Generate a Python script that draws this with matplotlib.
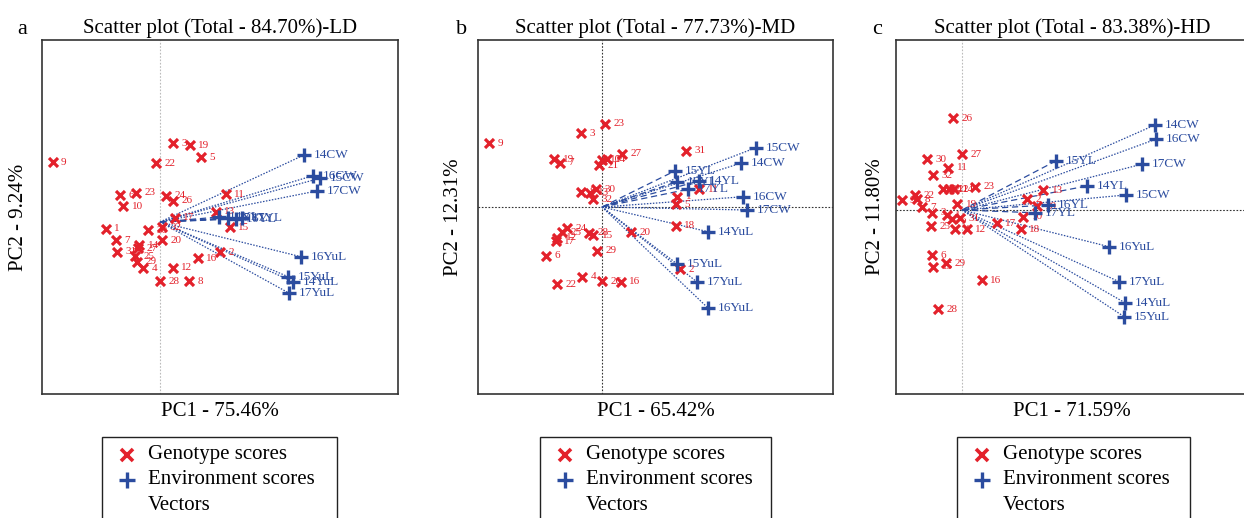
import matplotlib
matplotlib.use("Agg")
import matplotlib.pyplot as plt
from matplotlib.lines import Line2D
from matplotlib.patches import Rectangle

plt.rcParams['font.family'] = ['Liberation Serif', 'DejaVu Serif']

# ---------------- data ----------------
titles = ["Scatter plot (Total - 84.70%)-LD",
          "Scatter plot (Total - 77.73%)-MD",
          "Scatter plot (Total - 83.38%)-HD"]
panel_letters = ["a", "b", "c"]
xlabels = ["PC1 - 75.46%", "PC1 - 65.42%", "PC1 - 71.59%"]
ylabels = ["PC2 - 9.24%", "PC2 - 12.31%", "PC2 - 11.80%"]
legend_labels = ["Genotype scores", "Environment scores", "Vectors"]

# Panel a (LD)
gen_a_labels = ["3", "19", "5", "22", "9", "23", "6", "10", "26", "24", "11", "13", "17", "15",
                "1", "7", "31", "30", "32", "20", "14", "27", "25", "29", "4", "12", "28", "8",
                "16", "2"]
gen_a_x = [0.51, 1.20, 1.64, -0.16, -4.29, -0.96, -1.60, -1.47, 0.53, 0.24, 2.63, 2.24, 0.60, 2.80,
           -2.16, -1.76, -1.73, -0.47, 0.07, 0.07, -0.83, -0.87, -1.00, -0.93, -0.67, 0.51, 0.00, 1.16,
           1.51, 2.40]
gen_a_y = [3.15, 3.08, 2.59, 2.35, 2.39, 1.17, 1.08, 0.64, 0.85, 1.05, 1.11, 0.41, 0.17, -0.21,
           -0.27, -0.72, -1.19, -0.32, -0.21, -0.72, -0.92, -1.05, -1.36, -1.59, -1.85, -1.83, -2.36, -2.36,
           -1.45, -1.21]
env_a_labels = ["14CW", "16CW", "15CW", "17CW", "14YL", "15YL", "16YL", "17YL",
                "16YuL", "15YuL", "14YuL", "17YuL"]
env_a_x = [5.76, 6.11, 6.40, 6.27, 2.36, 2.72, 3.04, 3.28, 5.64, 5.13, 5.33, 5.17]
env_a_y = [2.68, 1.85, 1.75, 1.24, 0.20, 0.16, 0.12, 0.16, -1.39, -2.19, -2.39, -2.85]

# Panel b (MD)
gen_b_labels = ["9", "3", "23", "19", "7", "10", "14", "27", "21", "31", "8", "13", "30", "32",
                "1", "5", "11", "18", "20", "24", "25", "12", "17", "28", "15", "29", "6", "2",
                "4", "22", "26", "16"]
gen_b_x = [-4.52, -0.84, 0.12, -1.91, -1.68, -0.01, 0.19, 0.79, -0.11, 3.36, -0.84, -0.48, -0.24, -0.37,
           3.01, 2.95, 3.89, 2.95, 1.16, -1.41, -1.61, -1.79, -1.84, -0.52, -0.35, -0.19, -2.24, 3.12,
           -0.79, -1.79, 0.01, 0.76]
gen_b_y = [2.55, 2.95, 3.32, 1.91, 1.77, 1.88, 1.91, 2.12, 1.68, 2.25, 0.61, 0.57, 0.71, 0.31,
           0.41, 0.11, 0.71, -0.76, -1.01, -0.85, -1.01, -1.23, -1.36, -1.03, -1.12, -1.75, -1.95, -2.49,
           -2.79, -3.09, -2.96, -2.99]
env_b_labels = ["15CW", "14CW", "15YL", "16YL", "14YL", "17YL", "16CW", "17CW",
                "14YuL", "15YuL", "17YuL", "16YuL"]
env_b_x = [6.15, 5.55, 2.91, 2.99, 3.89, 3.45, 5.65, 5.79, 4.25, 3.01, 3.79, 4.25]
env_b_y = [2.37, 1.75, 1.44, 1.01, 1.04, 0.71, 0.41, -0.12, -0.99, -2.28, -2.99, -4.05]

# Panel c (HD)
gen_c_labels = ["26", "27", "30", "11", "32", "23", "14", "21", "24", "22", "9", "8", "19", "7",
                "3", "1", "5", "31", "25", "4", "12", "17", "18", "2", "10", "20", "13", "6",
                "15", "29", "16", "28"]
gen_c_x = [-0.37, -0.01, -1.41, -0.55, -1.17, 0.52, -0.75, -0.51, -0.32, -1.88, -2.41, -1.81, -0.19, -1.61,
           -1.21, -0.61, -0.41, -0.08, -1.25, -0.28, 0.19, 1.39, 2.36, 2.59, 2.45, 2.99, 3.25, -1.21,
           -1.15, -0.64, 0.79, -0.95]
gen_c_y = [3.67, 2.24, 2.03, 1.69, 1.40, 0.93, 0.83, 0.83, 0.83, 0.60, 0.40, 0.43, 0.24, 0.11,
           -0.11, -0.20, -0.37, -0.33, -0.64, -0.77, -0.77, -0.53, -0.77, 0.43, -0.27, 0.16, 0.80, -1.80,
           -2.27, -2.13, -2.80, -3.97]
env_c_labels = ["14CW", "16CW", "17CW", "15YL", "14YL", "15CW", "16YL", "17YL",
                "16YuL", "17YuL", "14YuL", "15YuL"]
env_c_x = [7.72, 7.75, 7.19, 3.75, 4.99, 6.55, 3.45, 2.92, 5.89, 6.29, 6.52, 6.49]
env_c_y = [3.40, 2.83, 1.83, 1.96, 0.96, 0.60, 0.20, -0.11, -1.47, -2.87, -3.71, -4.27]

panels = [
    (gen_a_labels, gen_a_x, gen_a_y, env_a_labels, env_a_x, env_a_y),
    (gen_b_labels, gen_b_x, gen_b_y, env_b_labels, env_b_x, env_b_y),
    (gen_c_labels, gen_c_x, gen_c_y, env_c_labels, env_c_x, env_c_y),
]

# ---------------- layout ----------------
W, H = 1244, 518
fig = plt.figure(figsize=(W / 100, H / 100), dpi=100)


def fx(px):
    return px / W


def fy(py):
    return 1 - py / H


# axes boxes in pixels: left, right, top, bottom
boxes = [(42, 398, 40, 394), (478, 833, 40, 394), (896, 1248, 40, 394)]
xlims = [(-4.72, 9.52), (-4.96, 9.24), (-2.64, 11.44)]
ylims = [(-6.88, 7.28), (-7.48, 6.68), (-7.36, 6.80)]
letter_pos = [(22, 29), (462, 29), (877, 29)]
ylabel_x = [19, 454, 876]
legend_box = [(102, 337), (540, 771), (957, 1190)]

RED = "#e3212b"
BLUE = "#2b4c9f"
FS = 15

for i, (gl, gx, gy, el, ex, ey) in enumerate(panels):
    l, r, t, b = boxes[i]
    ax = fig.add_axes([fx(l), fy(b), (r - l) / W, (b - t) / H])
    ax.set_xlim(*xlims[i])
    ax.set_ylim(*ylims[i])
    ax.set_xticks([])
    ax.set_yticks([])
    for s in ax.spines.values():
        s.set_color("#333333")
        s.set_linewidth(1.2)

    # reference lines
    if i == 0:
        ax.axvline(0, color="#bbbbbb", lw=0.8, ls=(0, (1.5, 1.5)), zorder=0)
    elif i == 1:
        ax.axvline(0, color="#333333", lw=0.8, ls=(0, (1.5, 1.5)), zorder=0)
        ax.axhline(0, color="#333333", lw=0.8, ls=(0, (1.5, 1.5)), zorder=0)
    else:
        ax.axvline(0, color="#bbbbbb", lw=0.8, ls=(0, (1.5, 1.5)), zorder=0)
        ax.axhline(0, color="#333333", lw=0.8, ls=(0, (1.5, 1.5)), zorder=0)

    # vectors
    for lab, x, y in zip(el, ex, ey):
        ls = (0, (5, 3)) if "YL" in lab and "YuL" not in lab else (0, (1.2, 1.2))
        ax.plot([0, x], [0, y], color=BLUE, lw=0.9, ls=ls, zorder=1)

    # genotype scores
    ax.scatter(gx, gy, marker="x", s=42, color=RED, linewidths=2.3, zorder=3)
    for lab, x, y in zip(gl, gx, gy):
        ax.annotate(lab, (x, y), xytext=(6, 0), textcoords="offset points",
                    color=RED, fontsize=8, va="center", ha="left", zorder=4)

    # environment scores
    ax.scatter(ex, ey, marker="+", s=115, color=BLUE, linewidths=2.4, zorder=5)
    for lab, x, y in zip(el, ex, ey):
        ax.annotate(lab, (x, y), xytext=(7, 0), textcoords="offset points",
                    color=BLUE, fontsize=9.5, va="center", ha="left", zorder=6)

    # titles / labels
    ax.set_title(titles[i], fontsize=FS, pad=5)
    ax.set_xlabel(xlabels[i], fontsize=FS, labelpad=6)
    fig.text(fx(ylabel_x[i]), fy((t + b) / 2), ylabels[i], rotation=90,
             fontsize=FS, ha="center", va="center")
    lx, ly = letter_pos[i]
    fig.text(fx(lx), fy(ly), panel_letters[i], fontsize=16, ha="center", va="center")

    # legend (box runs past the bottom edge, as in the reference)
    bl, br = legend_box[i]
    fig.patches.append(Rectangle((fx(bl), fy(560)), (br - bl) / W, (560 - 437) / H,
                                 transform=fig.transFigure, fill=False,
                                 edgecolor="#222222", lw=1.0))
    mx = bl + 25
    tx = bl + 46
    rows = [455, 480, 505]
    fig.add_artist(Line2D([fx(mx)], [fy(rows[0])], marker="x", color=RED, ls="none",
                          markersize=8, markeredgewidth=2.6, transform=fig.transFigure))
    fig.add_artist(Line2D([fx(mx)], [fy(rows[1])], marker="+", color=BLUE, ls="none",
                          markersize=11, markeredgewidth=2.4, transform=fig.transFigure))
    for lab, ry in zip(legend_labels, rows):
        fig.text(fx(tx), fy(ry), lab, fontsize=FS, ha="left", va="center")

fig.savefig("out.png", dpi=100)
